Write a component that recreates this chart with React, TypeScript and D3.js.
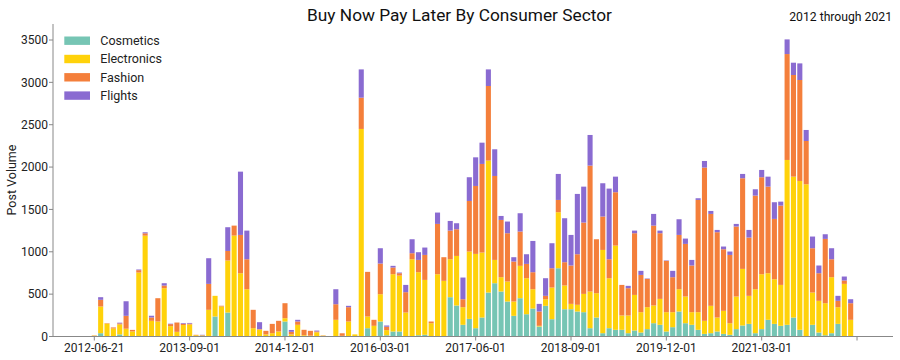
import React from "react";
import * as d3 from "d3";

const seriesNames = ["Cosmetics", "Electronics", "Fashion", "Flights"];
const colors = ["#76c5b4", "#ffd20a", "#f47f3b", "#8a6bd1"];

const cosmetics = [0,39,0,0,25,0,0,0,0,0,0,0,0,0,0,0,0,0,0,236,0,283,0,0,0,0,0,0,0,0,177,0,0,0,0,0,0,0,0,0,0,0,0,98,0,177,15,59,59,0,0,15,20,0,0,0,464,366,138,208,98,224,519,629,531,413,244,452,263,330,118,362,204,806,322,322,295,287,98,224,39,98,79,79,39,71,47,87,157,138,59,110,295,157,138,79,31,39,59,31,20,87,130,149,39,87,197,149,126,138,224,79,0,138,47,15,39,149,0,0];
const electronics = [10,315,152,95,118,92,60,755,1190,185,177,570,122,55,135,142,15,12,315,244,355,614,1191,747,558,98,82,25,39,59,39,25,138,15,10,50,10,0,197,8,177,25,2450,138,126,322,60,676,660,283,912,744,648,157,735,657,448,585,208,795,877,767,1557,275,169,236,169,382,425,228,8,78,374,661,280,63,79,216,433,287,983,590,994,169,209,420,240,259,209,306,228,177,263,315,149,208,154,323,165,272,137,385,668,331,519,648,550,527,483,1946,1663,1757,1797,381,374,378,661,197,621,197];
const fashion = [3,79,5,12,12,152,18,28,28,40,275,31,24,110,15,10,5,3,306,0,8,113,118,452,354,217,5,42,110,126,177,30,39,64,57,10,3,0,184,30,169,0,369,527,71,362,40,79,28,240,71,145,295,20,594,279,338,315,94,597,802,1046,881,991,676,570,472,405,169,201,169,40,228,145,275,453,597,842,1486,637,394,224,630,361,322,728,440,334,943,775,606,413,641,621,551,1325,1809,1085,1007,727,806,826,1070,688,1105,1145,1022,712,936,1250,1200,1192,511,523,326,759,212,75,40,196];
const flights = [0,31,0,0,8,172,0,8,12,20,0,28,5,0,8,8,0,5,303,0,0,280,0,747,338,0,82,0,0,0,0,22,20,0,0,10,0,0,177,0,16,0,334,0,0,181,15,20,8,86,165,91,87,0,134,0,114,71,256,280,338,251,196,315,47,138,51,216,114,369,90,208,295,307,519,361,712,424,362,0,393,834,184,0,28,31,48,5,138,31,5,75,185,63,66,20,78,35,27,32,40,31,51,90,75,86,118,197,47,173,145,196,130,138,91,55,130,59,47,47];

// Categories: first observation, then monthly periods (one extra empty slot at the end)
const firstDate = "2012-06-21";
const categories: string[] = [firstDate];
for (let k = 1; k <= 120; k++) {
  const m = 5 + k;
  const yr = 2012 + Math.floor(m / 12);
  const mo = (m % 12) + 1;
  categories.push(`${yr}-${String(mo).padStart(2, "0")}-01`);
}
const tickEvery = 15;
const yTicks = [0, 500, 1000, 1500, 2000, 2500, 3000, 3500];

const W = 900, H = 360;
const axisLeft = 53, axisRight = 893, y0px = 336.5, yTop = 24;

export default function App() {
  const rows = categories.map((c, i) => ({
    date: c,
    Cosmetics: cosmetics[i] ?? 0,
    Electronics: electronics[i] ?? 0,
    Fashion: fashion[i] ?? 0,
    Flights: flights[i] ?? 0,
  }));
  const step = 6.356;
  const c0 = 94.3;
  const x = d3
    .scaleBand<string>()
    .domain(categories)
    .range([c0 - step / 2, c0 - step / 2 + step * categories.length])
    .paddingInner(0.2)
    .paddingOuter(0.1);
  const y = d3.scaleLinear().domain([0, 3500]).range([y0px, 40]);
  const stack = d3.stack<any>().keys(seriesNames);
  const layers = stack(rows);
  const tickIdx = categories.map((_, i) => i).filter((i) => i % tickEvery === 0);
  const font = "Roboto, 'Open Sans', sans-serif";

  return (
    <svg
      width={W}
      height={H}
      style={{ position: "absolute", left: 0, top: 0, fontFamily: font }}
    >
      <rect width={W} height={H} fill="#fff" />
      {layers.map((layer, li) => (
        <g key={layer.key} fill={colors[li]}>
          {layer.map((d, i) => {
            const h = y(d[0]) - y(d[1]);
            if (h <= 0) return null;
            return (
              <rect
                key={i}
                x={x(categories[i])}
                y={y(d[1])}
                width={x.bandwidth()}
                height={h}
              />
            );
          })}
        </g>
      ))}
      <line x1={axisLeft} x2={axisLeft} y1={yTop} y2={y0px} stroke="#888" strokeWidth={1} />
      {yTicks.map((t) => (
        <g key={t} transform={`translate(0,${y(t)})`}>
          <line x1={axisLeft - 4} x2={axisLeft} stroke="#888" />
          <text x={axisLeft - 5} dy="0.35em" textAnchor="end" fontSize={12} fill="#222">
            {t}
          </text>
        </g>
      ))}
      <line x1={axisLeft} x2={axisRight} y1={y0px} y2={y0px} stroke="#888" strokeWidth={1} />
      {tickIdx.map((i) => {
        const cx = (x(categories[i]) ?? 0) + x.bandwidth() / 2;
        return (
          <g key={i} transform={`translate(${cx},${y0px})`}>
            <line y1={0} y2={4} stroke="#888" />
            {i < 120 && (
              <text y={15} textAnchor="middle" fontSize={12} fill="#222">
                {categories[i]}
              </text>
            )}
          </g>
        );
      })}
      <text
        transform={`translate(16,180) rotate(-90)`}
        textAnchor="middle"
        fontSize={12.5}
        fill="#222"
      >
        Post Volume
      </text>
      <text x={459.5} y={21} textAnchor="middle" fontSize={17.3} fill="#111">
        Buy Now Pay Later By Consumer Sector
      </text>
      <text x={892} y={20.7} textAnchor="end" fontSize={12.2} fill="#111">
        2012 through 2021
      </text>
      {seriesNames.map((s, i) => (
        <g key={s} transform={`translate(64.3,${40.7 + i * 18.3})`}>
          <rect x={0} y={-4.2} width={25.7} height={8.4} fill={colors[i]} />
          <text x={36} dy="0.35em" fontSize={12.5} fill="#222">
            {s}
          </text>
        </g>
      ))}
    </svg>
  );
}
